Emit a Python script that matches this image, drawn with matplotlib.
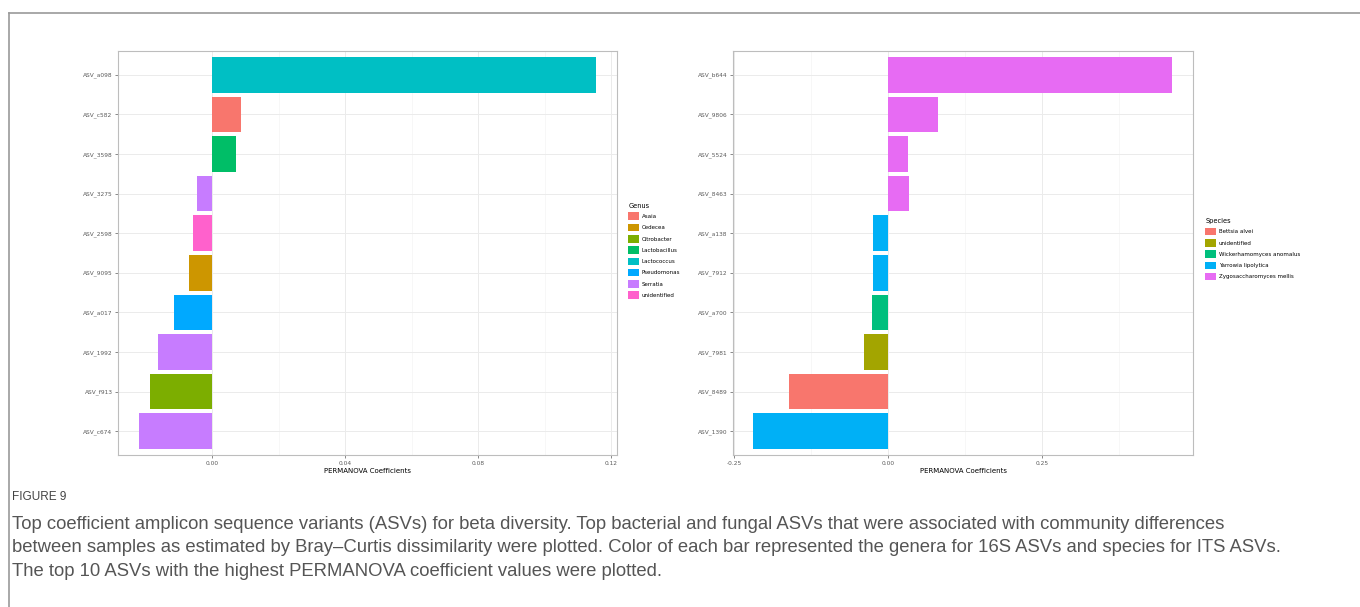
import numpy as np
import matplotlib.pyplot as plt
from matplotlib.lines import Line2D
from matplotlib.patches import Patch

# 16S ASVs (top to bottom) and their PERMANOVA coefficients
asv_16s = ['ASV_a098', 'ASV_c582', 'ASV_3598', 'ASV_3275', 'ASV_2598',
           'ASV_9095', 'ASV_a017', 'ASV_1992', 'ASV_f913', 'ASV_c674']
coef_16s = [0.1154, 0.0088, 0.0073, -0.0047, -0.0059,
            -0.0071, -0.0116, -0.0162, -0.0187, -0.0220]
genus_16s = ['Lactococcus', 'Asaia', 'Lactobacillus', 'Serratia', 'unidentified',
             'Cedecea', 'Pseudomonas', 'Serratia', 'Citrobacter', 'Serratia']
genera = ['Asaia', 'Cedecea', 'Citrobacter', 'Lactobacillus', 'Lactococcus',
          'Pseudomonas', 'Serratia', 'unidentified']
genus_colors = ['#F8766D', '#CD9600', '#7CAE00', '#00BE67', '#00BFC4',
                '#00A9FF', '#C77CFF', '#FF61CC']

# ITS ASVs
asv_its = ['ASV_b644', 'ASV_9806', 'ASV_5524', 'ASV_8463', 'ASV_a138',
           'ASV_7912', 'ASV_a700', 'ASV_7981', 'ASV_8489', 'ASV_1390']
coef_its = [0.461, 0.081, 0.032, 0.033, -0.024,
            -0.024, -0.026, -0.039, -0.161, -0.219]
species_its = ['Zygosaccharomyces mellis', 'Zygosaccharomyces mellis',
               'Zygosaccharomyces mellis', 'Zygosaccharomyces mellis',
               'Yarrowia lipolytica', 'Yarrowia lipolytica',
               'Wickerhamomyces anomalus', 'unidentified', 'Bettsia alvei',
               'Yarrowia lipolytica']
species = ['Bettsia alvei', 'unidentified', 'Wickerhamomyces anomalus',
           'Yarrowia lipolytica', 'Zygosaccharomyces mellis']
species_colors = ['#F8766D', '#A3A500', '#00BF7D', '#00B0F6', '#E76BF3']

xticks_16s = [0.00, 0.04, 0.08, 0.12]
xticks_its = [-0.25, 0.00, 0.25]

caption = ("Top coefficient amplicon sequence variants (ASVs) for beta diversity. Top bacterial and fungal ASVs that were associated with community differences\n"
           "between samples as estimated by Bray\u2013Curtis dissimilarity were plotted. Color of each bar represented the genera for 16S ASVs and species for ITS ASVs.\n"
           "The top 10 ASVs with the highest PERMANOVA coefficient values were plotted.")

fig = plt.figure(figsize=(13.6, 6.07), dpi=100)


def panel(rect, names, vals, groups, levels, colors, xticks, xlim, title, leg_anchor):
    ax = fig.add_axes(rect)
    cmap = dict(zip(levels, colors))
    y = np.arange(len(names))[::-1]
    ax.barh(y, vals, height=0.9, color=[cmap[g] for g in groups], zorder=3)
    ax.set_yticks(y)
    ax.set_yticklabels(names)
    ax.set_xticks(xticks)
    ax.set_xticklabels(['%.2f' % t for t in xticks])
    step = xticks[1] - xticks[0]
    minor = [t + step / 2 for t in xticks]
    ax.set_xticks(minor, minor=True)
    # ticks may stretch the view, so set limits afterwards
    ax.set_ylim(-0.6, len(names) - 0.4)
    ax.set_xlim(*xlim)
    ax.tick_params(which='minor', length=0)
    ax.grid(True, which='major', color='#ebebeb', lw=0.7, zorder=0)
    ax.grid(True, which='minor', axis='x', color='#f4f4f4', lw=0.5, zorder=0)
    ax.tick_params(which='major', labelsize=4.2, colors='#5a5a5a', length=2.5,
                   width=0.5, pad=1.5)
    for s in ax.spines.values():
        s.set_color('#bdbdbd')
        s.set_linewidth(0.8)
    ax.set_xlabel('PERMANOVA Coefficients', fontsize=5, labelpad=1.5)
    handles = [Patch(facecolor=c, edgecolor='none') for c in colors]
    leg = ax.legend(handles, levels, title=title, loc='upper left',
                    bbox_to_anchor=leg_anchor, frameon=False, fontsize=4,
                    title_fontsize=4.8, handlelength=1.9, handleheight=1.7,
                    handletextpad=0.5, labelspacing=0.68, borderaxespad=0)
    leg._legend_box.align = 'left'
    return ax


panel([0.0868, 0.2504, 0.3669, 0.6656], asv_16s, coef_16s, genus_16s, genera,
      genus_colors, xticks_16s, (-0.0283, 0.1218), 'Genus', (1.018, 0.63))
panel([0.539, 0.2504, 0.3382, 0.6656], asv_its, coef_its, species_its, species,
      species_colors, xticks_its, (-0.252, 0.495), 'Species', (1.022, 0.592))

# outer frame of the figure box
fig.add_artist(Line2D([9 / 1360, 9 / 1360], [0, 1 - 13 / 607], color='#9a9a9a', lw=1.2))
fig.add_artist(Line2D([9 / 1360, 1], [1 - 13 / 607, 1 - 13 / 607], color='#9a9a9a', lw=1.2))

fig.text(12 / 1360, 1 - 497 / 607, 'FIGURE 9', fontsize=8.5, color='#444444',
         family=['Liberation Sans', 'DejaVu Sans'], va='center')
fig.text(12 / 1360, 1 - 516 / 607, caption, fontsize=13.3, color='#555555',
         family=['Liberation Sans', 'DejaVu Sans'], va='top',
         linespacing=1.5)

fig.savefig('out.png', dpi=100, facecolor='white')
